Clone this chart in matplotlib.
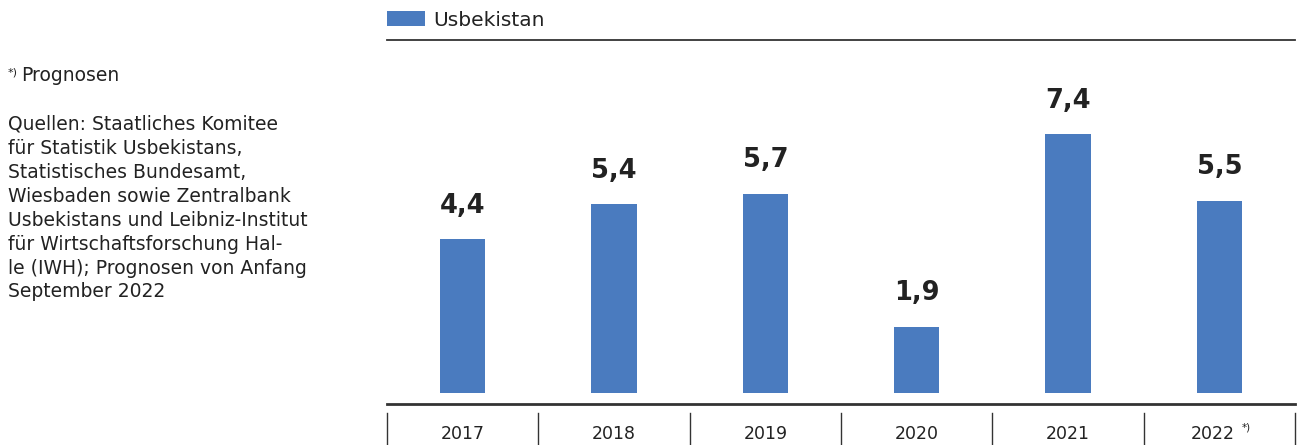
import matplotlib.pyplot as plt
from matplotlib.patches import Patch
import matplotlib.transforms as mtransforms

# Wirtschaftswachstum Usbekistan (reales BIP, Veraenderung in %)
years = ['2017', '2018', '2019', '2020', '2021', '2022']
values = [4.4, 5.4, 5.7, 1.9, 7.4, 5.5]
value_labels = ['4,4', '5,4', '5,7', '1,9', '7,4', '5,5']
series_name = 'Usbekistan'
forecast_year = '2022'

note_prognose = 'Prognosen'
note_sources = ('Quellen: Staatliches Komitee\n'
                'für Statistik Usbekistans,\n'
                'Statistisches Bundesamt,\n'
                'Wiesbaden sowie Zentralbank\n'
                'Usbekistans und Leibniz-Institut\n'
                'für Wirtschaftsforschung Hal-\n'
                'le (IWH); Prognosen von Anfang\n'
                'September 2022')

bar_color = '#4a7bbf'
text_color = '#222222'
line_color = '#333333'

plt.rcParams['font.family'] = ['DejaVu Sans']

fig = plt.figure(figsize=(12.98, 4.45), dpi=100)
ax = fig.add_axes([0.2982, 0.0921, 0.6995, 0.818])

x = list(range(len(years)))
ax.bar(x, values, width=0.30, color=bar_color, zorder=2)

ax.set_xlim(-0.5, len(years) - 0.5)
ax.set_ylim(-0.314, 10.086)

# value labels above bars
for xi, v, lab in zip(x, values, value_labels):
    ax.annotate(lab, (xi, v), xytext=(0, 19), textcoords='offset points',
                ha='center', va='baseline', fontsize=18.5, fontweight='bold',
                color=text_color)

# spines
for s in ['left', 'right']:
    ax.spines[s].set_visible(False)
ax.spines['top'].set_color(line_color)
ax.spines['top'].set_linewidth(1.3)
ax.spines['bottom'].set_color(line_color)
ax.spines['bottom'].set_linewidth(2.0)
ax.set_yticks([])
ax.set_xticks([])

# year labels below the axis
trans = mtransforms.blended_transform_factory(ax.transData, ax.transAxes)
for xi, yr in zip(x, years):
    dx = -5 if yr == forecast_year else 0
    ax.annotate(yr, (xi, 0), xycoords=trans, xytext=(dx, -21.5),
                textcoords='offset points', ha='center', va='center',
                fontsize=12.5, color=text_color, annotation_clip=False)
    if yr == forecast_year:
        ax.annotate('*)', (xi, 0), xycoords=trans, xytext=(16, -17),
                    textcoords='offset points', ha='left', va='center',
                    fontsize=7.5, color=text_color, annotation_clip=False)

# separators between categories below the axis
for b in [i - 0.5 for i in range(len(years) + 1)]:
    ax.plot([b, b], [-0.025, -0.125], transform=trans, color=line_color,
            lw=1.0, clip_on=False)

# legend
handles = [Patch(facecolor=bar_color, edgecolor='none', label=series_name)]
leg = fig.legend(handles=handles, loc='center left', bbox_to_anchor=(0.2982, 0.955),
                 frameon=False, fontsize=14.5, handlelength=1.9, handleheight=0.8,
                 handletextpad=0.4, borderaxespad=0, borderpad=0)
for t in leg.get_texts():
    t.set_color(text_color)

# notes on the left
fig.text(0.006, 0.838, '*)', fontsize=8, color=text_color, va='center')
fig.text(0.0165, 0.831, note_prognose, fontsize=13.5, color=text_color, va='center')
fig.text(0.006, 0.742, note_sources, fontsize=13.5, color=text_color, va='top',
         linespacing=1.33)

fig.savefig('out.png', dpi=100)
